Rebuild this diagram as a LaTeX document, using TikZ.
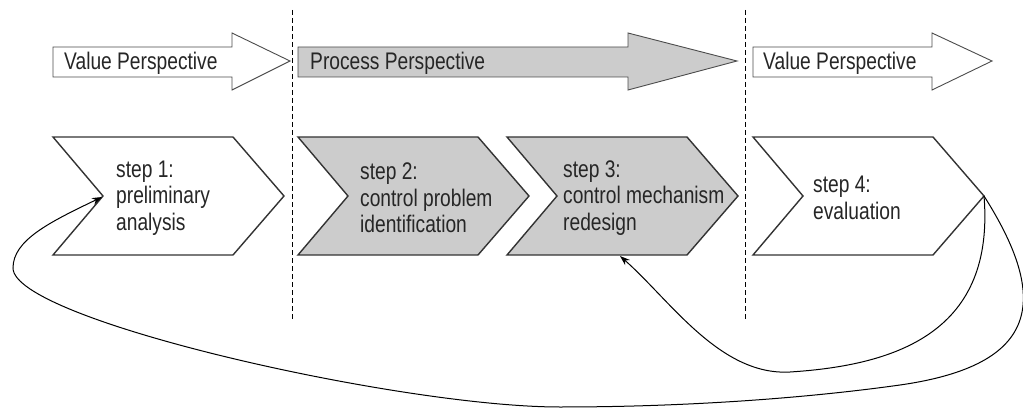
\documentclass[tikz,border=0pt]{standalone}
\usepackage{fontspec}
\setmainfont{Liberation Sans}[FakeStretch=0.8]
\usetikzlibrary{arrows.meta}
\colorlet{boxgray}{gray!40}
\tikzset{
  persp/.style={draw=black!70, line width=0.9pt, line join=miter},
  persptext/.style={anchor=base west, inner sep=0pt, font=\fontsize{24}{26}\selectfont, text=black!85},
  stepbox/.style={draw=black!80, line width=1.4pt, line join=miter},
  steptext/.style={anchor=west, align=left, inner sep=0pt, font=\fontsize{24}{26.5}\selectfont, text=black!85},
  feedback/.style={draw=black, line width=1pt, -{Stealth[length=10pt,width=7pt]}},
  divider/.style={dash pattern=on 5pt off 3pt, line width=0.8pt},
}
\begin{document}
\begin{tikzpicture}[x=1pt,y=-1pt]
\useasboundingbox (0,0) rectangle (1023,409);
\def\perspective#1#2#3{(#1,47) -- (#2,47) -- (#2,33) -- (#3,61) -- (#2,90) -- (#2,77) -- (#1,77) -- cycle}

% perspectives on top
\draw[persp, fill=white] \perspective{53}{232}{290};
\draw[persp, fill=boxgray] \perspective{298}{628}{737};
\draw[persp, fill=white] \perspective{753}{932}{992};
\node[persptext] (vp1) at (64,70) {Value Perspective};
\node[persptext] (pp) at (310,70) {Process Perspective};
\node[persptext] (vp2) at (763,70) {Value Perspective};

% the four steps
\foreach \x/\tx/\c/\n/\t in {53/116/white/1/{step 1:\\preliminary\\analysis},
    298/360/boxgray/2/{step 2:\\control problem\\identification},
    507/563/boxgray/3/{step 3:\\control mechanism\\redesign},
    753/813/white/4/{step 4:\\evaluation}}{
  \draw[stepbox, fill=\c] (\x,137) -- ++(180,0) -- ++(51,59) -- ++(-51,59) -- ++(-180,0) -- ++(50,-59) -- cycle;
  \node[steptext] (s\n) at (\tx,198) {\t};
}
\coordinate (tip4) at (984,196);
\coordinate (notch1) at (102,197);
\coordinate (bot3) at (620,256);

% dividers
\draw[divider] (292,10) -- (292,321);
\draw[divider] (745,10) -- (745,321);

% feedback loops
\draw[feedback] (tip4) .. controls (1050,300) and (1040,365) .. (900,385)
  .. controls (800,399) and (680,407) .. (560,407)
  .. controls (400,407) and (13,320) .. (13,268)
  .. controls (13,240) and (50,222) .. (notch1);
\draw[feedback] (tip4) .. controls (995,330) and (900,365) .. (790,372)
  .. controls (720,376) and (670,300) .. (bot3);
\end{tikzpicture}
\end{document}
